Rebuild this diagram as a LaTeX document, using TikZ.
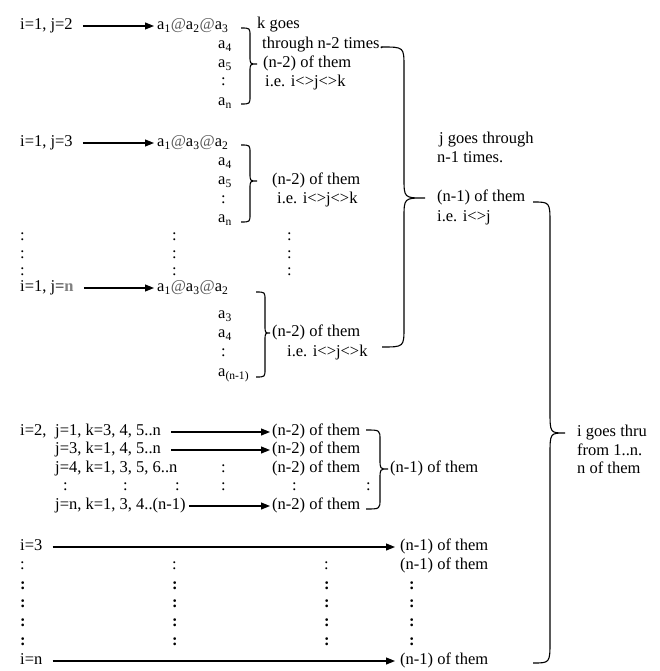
\documentclass[tikz,border=0pt]{standalone}
\usepackage{fontspec}
\setmainfont{Liberation Serif}
\usetikzlibrary{arrows.meta}
\newcommand\asub[1]{a\textsubscript{#1}}
\newcommand\myat{{\color{black!65}@}}
\newcommand\mybrace[7]{\draw[brc] (#1,#4) .. controls (#2,#4) .. (#2,#4+#7) -- (#2,#5-#7) .. controls (#2,#5) .. (#3,#5) .. controls (#2,#5) .. (#2,#5+#7) -- (#2,#6-#7) .. controls (#2,#6) .. (#1,#6);}
\begin{document}
\begin{tikzpicture}[x=1pt,y=-1pt,
  every node/.style={font=\fontsize{16.5}{19}\selectfont, inner sep=0pt, anchor=west, text height=11pt, text depth=4pt},
  colon/.style={text height=6pt, text depth=0pt},
  arr/.style={line width=1.1pt, -{Triangle[length=9pt,width=7pt]}},
  brc/.style={line width=1.1pt},
  bdot/.style={colon, font=\fontsize{16.5}{19}\selectfont\bfseries}]
\useasboundingbox[fill=white] (0,0) rectangle (659,671);
% group 1
\node (l1) at (20,26) {i=1, j=2};
\node (a1) at (157,26) {\asub{1}\myat\asub{2}\myat\asub{3}};
\node (g1r1) at (218,45) {\asub{4}};
\node (g1r2) at (218,64) {\asub{5}};
\node[colon] (g1r3) at (221,83) {:};
\node (g1r4) at (218,102) {\asub{n}};
\draw[arr, shorten <=10pt, shorten >=3pt] (l1.east) -- (a1.west);
\mybrace{241}{250}{257}{28}{64}{104}{8}
\node (k1) at (257,25) {k goes};
\node (k2) at (262,45) {through n-2 times.};
\node (k3) at (263,64) {(n-2) of them};
\node (k4) at (265,83) {i.e. i<>j<>k};
% group 2
\node (l2) at (20,143) {i=1, j=3};
\node (a2) at (157,143) {\asub{1}\myat\asub{3}\myat\asub{2}};
\node (g2r1) at (218,162) {\asub{4}};
\node (g2r2) at (218,181) {\asub{5}};
\node[colon] (g2r3) at (221,200) {:};
\node (g2r4) at (218,219) {\asub{n}};
\draw[arr, shorten <=10pt, shorten >=3pt] (l2.east) -- (a2.west);
\mybrace{241}{250}{257}{145}{181}{222}{8}
\node (m1) at (272,181) {(n-2) of them};
\node (m2) at (277,200) {i.e. i<>j<>k};
% dots
\foreach \y [count=\i] in {237,255,272} {
  \node[colon] (da\i) at (20,\y) {:};
  \node[colon] (db\i) at (172,\y) {:};
  \node[colon] (dc\i) at (287,\y) {:};
}
% group 3
\node (l3) at (20,288) {i=1, j={\color{black!50}\bfseries n}};
\node (a3) at (157,288) {\asub{1}\myat\asub{3}\myat\asub{2}};
\node (g3r1) at (218,315) {\asub{3}};
\node (g3r2) at (218,334) {\asub{4}};
\node[colon] (g3r3) at (221,353) {:};
\node (g3r4) at (218,373) {\asub{(n-1)}};
\draw[arr, shorten <=10pt, shorten >=3pt] (l3.east) -- (a3.west);
\mybrace{256}{265}{270}{292}{333}{377}{8}
\node (n1) at (272,333) {(n-2) of them};
\node (n2) at (287,353) {i.e. i<>j<>k};
% j brace
\mybrace{382}{404}{425}{47}{198}{347}{20}
\node (j1) at (439,140) {j goes through};
\node (j2) at (437,159) {n-1 times.};
\node (j3) at (437,198) {(n-1) of them};
\node (j4) at (437,218) {i.e. i<>j};
% i brace
\mybrace{533}{550}{565}{202}{433}{663}{22}
\node (i1) at (577,433) {i goes thru};
\node (i2) at (577,452) {from 1..n.};
\node (i3) at (577,470) {n of them};
% i=2 group
\node (p0) at (20,432) {i=2,};
\node (p1) at (55,432) {j=1, k=3, 4, 5..n};
\node (q1) at (272,432) {(n-2) of them};
\draw[arr, shorten <=10pt, shorten >=2pt] (p1.east) -- (q1.west);
\node (p2) at (55,450) {j=3, k=1, 4, 5..n};
\node (q2) at (272,450) {(n-2) of them};
\draw[arr, shorten <=10pt, shorten >=2pt] (p2.east) -- (q2.west);
\node (p3) at (55,469) {j=4, k=1, 3, 5, 6..n};
\node[colon] (p3c) at (221,469) {:};
\node (q3) at (272,469) {(n-2) of them};
\foreach \x [count=\i] in {63,123,175,221,292,366} {
  \node[colon] (pd\i) at (\x,487) {:};
}
\node (p5) at (55,506) {j=n, k=1, 3, 4..(n-1)};
\node (q5) at (272,506) {(n-2) of them};
\draw[arr, shorten <=3pt, shorten >=2pt] (p5.east) -- (q5.west);
\mybrace{366}{380}{388}{430}{469}{509}{10}
\node (r1) at (390,469) {(n-1) of them};
% i=3 .. i=n
\node (s3) at (20,547) {i=3};
\node (t3) at (400,547) {(n-1) of them};
\draw[arr, shorten <=10pt, shorten >=5pt] (s3.east) -- (t3.west);
\node[colon] (sd1) at (20,566) {:};
\node[colon] (sd2) at (172,566) {:};
\node[colon] (sd3) at (324,566) {:};
\node (td) at (400,566) {(n-1) of them};
\foreach \y [count=\i] in {586,604,623,642} {
  \node[bdot] (ba\i) at (20,\y) {:};
  \node[bdot] (bb\i) at (172,\y) {:};
  \node[bdot] (bc\i) at (324,\y) {:};
  \node[bdot] (bd\i) at (409,\y) {:};
}
\node (sn) at (20,661) {i=n};
\node (tn) at (400,661) {(n-1) of them};
\draw[arr, shorten <=10pt, shorten >=5pt] (sn.east) -- (tn.west);
\end{tikzpicture}
\end{document}
